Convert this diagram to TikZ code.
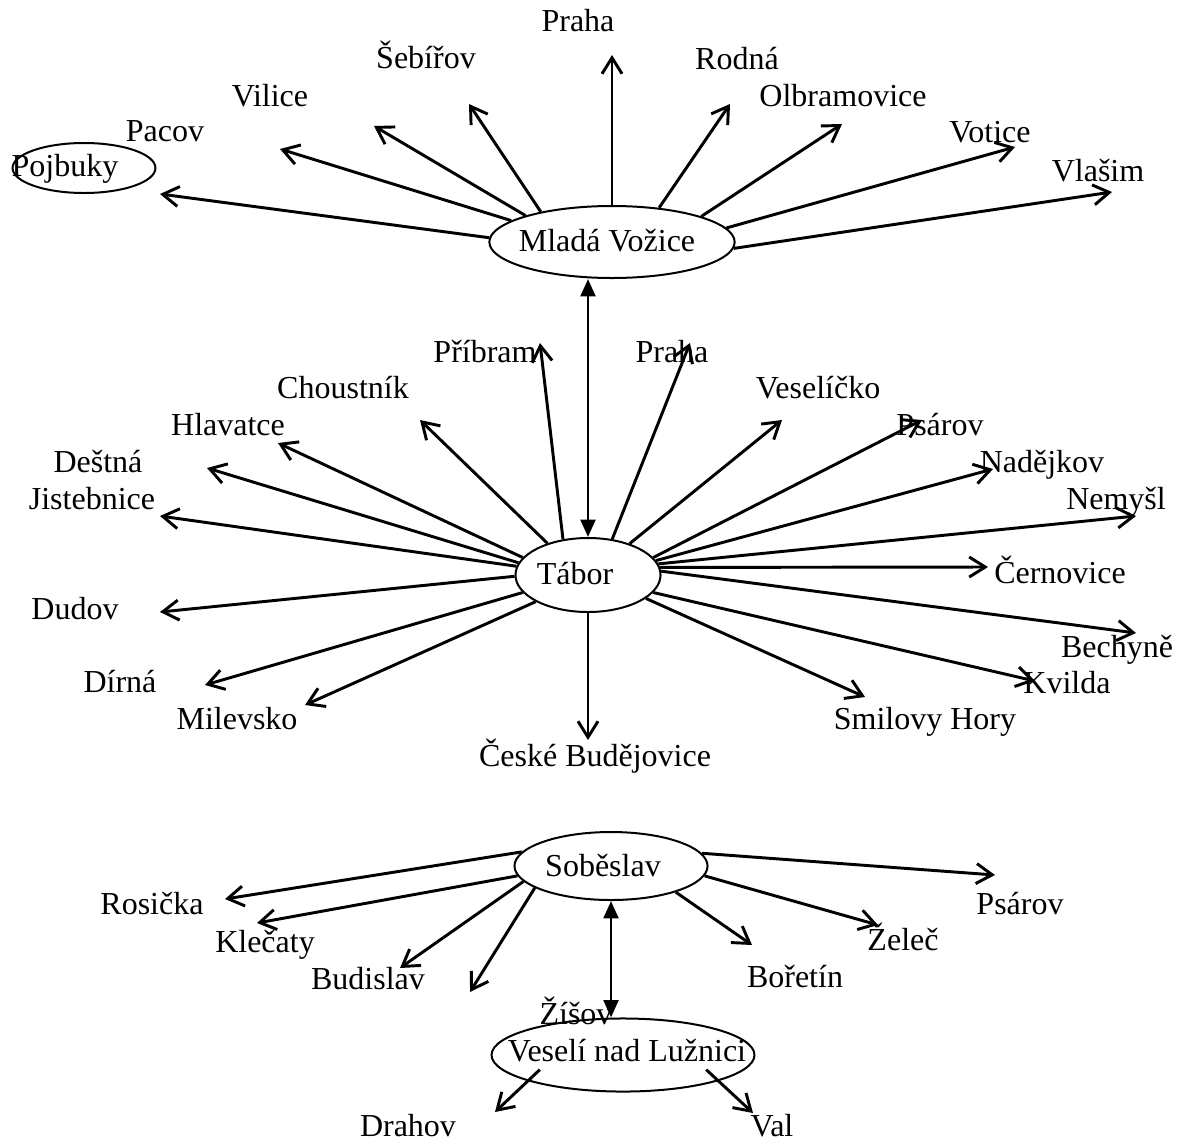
\documentclass[12pt,tikz,border=0pt]{standalone}
\usepackage{fontspec}
\setmainfont{Liberation Serif}
\usetikzlibrary{arrows.meta, shapes.geometric, calc}

\begin{document}
\begin{tikzpicture}[
    x=0.375pt, y=-0.375pt,
    city/.style={draw, ellipse, line width=0.75pt, inner sep=0pt},
    place/.style={inner sep=0pt, text height=1.6ex, text depth=0.3ex},
    road/.style={-{Straight Barb[length=6pt, width=7.5pt]}, line width=1.1pt},
    link/.style={{Triangle[length=6.5pt, width=5.5pt]}-{Triangle[length=6.5pt, width=5.5pt]}, line width=1.1pt}
]
\useasboundingbox (0,0) rectangle (1185,1142);

% Mlada Vozice
\node[city, minimum width=92pt, minimum height=27pt] (mv) at (612,242) {};
\node[place] (mvname) at (607,242) {Mladá Vožice};
\node[city, minimum width=53.6pt, minimum height=18.75pt] (pojbuky) at (84,168) {};
\node[place] (pojbukyname) at (65,167) {Pojbuky};
\node[place] (pacov) at (165,132) {Pacov};
\node[place] (vilice) at (270,97) {Vilice};
\node[place] (sebirov) at (426,59) {Šebířov};
\node[place] (praha1) at (578,22) {Praha};
\node[place] (rodna) at (737,60) {Rodná};
\node[place] (olbramovice) at (843,97) {Olbramovice};
\node[place] (votice) at (990,133) {Votice};
\node[place] (vlasim) at (1098,172) {Vlašim};

\coordinate (pojbukyend) at (160,194);
\coordinate (pacovend) at (280,149);
\coordinate (viliceend) at (374,126);
\coordinate (sebirovend) at (469,104);
\coordinate (praha1end) at (612,55);
\coordinate (rodnaend) at (730,104);
\coordinate (olbramoviceend) at (842,124);
\coordinate (voticeend) at (1015,147);
\coordinate (vlasimend) at (1112,192);

\draw[road] (mv.178) -- (pojbukyend);
\draw[road] (mv.168) -- (pacovend);
\draw[road] (mv.163) -- (viliceend);
\draw[road] (mv.157) -- (sebirovend);
\draw[road] (mv.north) -- (praha1end);
\draw[road] (mv.36) -- (rodnaend);
\draw[road] (mv.16) -- (olbramoviceend);
\draw[road] (mv.7) -- (voticeend);
\draw[road] (mv.357) -- (vlasimend);

% Tabor
\node[city, minimum width=54.4pt, minimum height=27.75pt] (tabor) at (588,575) {};
\node[place] (taborname) at (575,575) {Tábor};
\node[place] (pribram) at (485,353) {Příbram};
\node[place] (praha2) at (672,353) {Praha};
\node[place] (choustnik) at (343,389) {Choustník};
\node[place] (veselicko) at (818,389) {Veselíčko};
\node[place] (hlavatce) at (228,426) {Hlavatce};
\node[place] (psarov1) at (940,426) {Psárov};
\node[place] (destna) at (98,463) {Deštná};
\node[place] (jistebnice) at (92,500) {Jistebnice};
\node[place] (nadejkov) at (1042,463) {Nadějkov};
\node[place] (nemysl) at (1116,500) {Nemyšl};
\node[place] (dudov) at (75,610) {Dudov};
\node[place] (cernovice) at (1060,574) {Černovice};
\node[place] (dirna) at (120,683) {Dírná};
\node[place] (bechyne) at (1117,648) {Bechyně};
\node[place] (milevsko) at (237,720) {Milevsko};
\node[place] (kvilda) at (1067,684) {Kvilda};
\node[place] (budejovice) at (595,757) {České Budějovice};
\node[place] (smilovy) at (925,720) {Smilovy Hory};

\coordinate (pribramend) at (540,343);
\coordinate (praha2end) at (690,343);
\coordinate (choustnikend) at (420,420);
\coordinate (veselickoend) at (782,420);
\coordinate (hlavatceend) at (278,443);
\coordinate (psarov1end) at (922,420);
\coordinate (destnaend) at (207,468);
\coordinate (jistebniceend) at (160,516);
\coordinate (nadejkovend) at (993,469);
\coordinate (nemyslend) at (1136,516);
\coordinate (dudovend) at (160,612);
\coordinate (cernoviceend) at (988,567);
\coordinate (dirnaend) at (205,685);
\coordinate (bechyneend) at (1136,633);
\coordinate (milevskoend) at (305,705);
\coordinate (kvildaend) at (1035,681);
\coordinate (budejoviceend) at (588,740);
\coordinate (smilovyend) at (865,697);

\draw[road] (tabor.125) -- (pribramend);
\draw[road] (tabor.56) -- (praha2end);
\draw[road] (tabor.142) -- (choustnikend);
\draw[road] (tabor.37) -- (veselickoend);
\draw[road] (tabor.165) -- (hlavatceend);
\draw[road] (tabor.15) -- (psarov1end);
\draw[road] (tabor.170) -- (destnaend);
\draw[road] (tabor.173) -- (jistebniceend);
\draw[road] (tabor.12) -- (nadejkovend);
\draw[road] (tabor.9) -- (nemyslend);
\draw[road] (tabor.181) -- (dudovend);
\draw[road] (tabor.6) -- (cernoviceend);
\draw[road] (tabor.195) -- (dirnaend);
\draw[road] (tabor.3) -- (bechyneend);
\draw[road] (tabor.207) -- (milevskoend);
\draw[road] (tabor.345) -- (kvildaend);
\draw[road] (tabor.south) -- (budejoviceend);
\draw[road] (tabor.338) -- (smilovyend);

\draw[link] (tabor.north) -- (tabor.north |- mv.south);

% Sobeslav
\node[city, minimum width=72.4pt, minimum height=25.5pt] (sob) at (611,866) {};
\node[place] (sobname) at (603,867) {Soběslav};
\node[place] (rosicka) at (152,905) {Rosička};
\node[place] (klecaty) at (265,943) {Klečaty};
\node[place] (budislav) at (368,980) {Budislav};
\node[place] (zisov) at (576,1015) {Žíšov};
\node[place] (boretin) at (795,978) {Bořetín};
\node[place] (zelec) at (903,941) {Želeč};
\node[place] (psarov2) at (1020,905) {Psárov};

\coordinate (rosickaend) at (225,899);
\coordinate (klecatyend) at (257,923);
\coordinate (budislavend) at (400,968);
\coordinate (zisovend) at (470,992);
\coordinate (boretinend) at (752,945);
\coordinate (zelecend) at (878,925);
\coordinate (psarov2end) at (995,875);

\draw[road] (sob.171) -- (rosickaend);
\draw[road] (sob.186) -- (klecatyend);
\draw[road] (sob.190) -- (budislavend);
\draw[road] (sob.196) -- (zisovend);
\draw[road] (sob.338) -- (boretinend);
\draw[road] (sob.354) -- (zelecend);
\draw[road] (sob.8) -- (psarov2end);

% Veseli nad Luznici
\node[city, minimum width=98.6pt, minimum height=27.4pt] (ves) at (623,1055) {};
\node[place] (vesname) at (627,1052) {Veselí nad Lužnici};
\node[place] (drahov) at (408,1127) {Drahov};
\node[place] (val) at (772,1127) {Val};

\coordinate (drahovend) at (495,1112);
\coordinate (valend) at (753,1113);

\draw[road] ($(ves.center)!0.74!(ves.190)$) -- (drahovend);
\draw[road] ($(ves.center)!0.74!(ves.350)$) -- (valend);

\draw[link] (sob.south) -- (sob.south |- ves.north);
\end{tikzpicture}
\end{document}
